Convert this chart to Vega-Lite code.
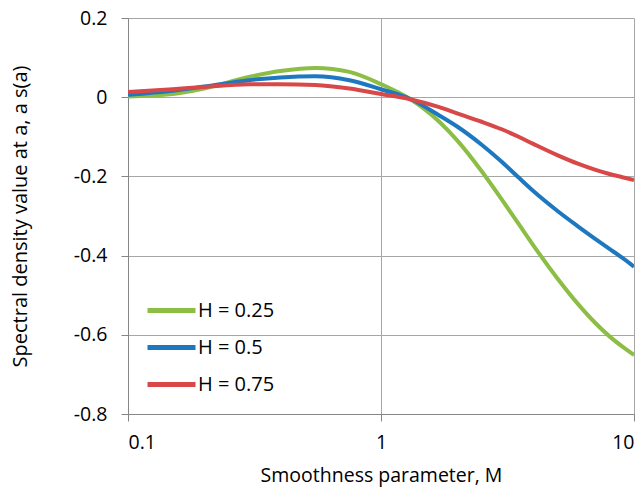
{
  "$schema": "https://vega.github.io/schema/vega-lite/v6.json",
  "width": 506,
  "height": 396,
  "autosize": {"type": "none"},
  "padding": {"left": 128, "top": 18, "right": 10, "bottom": 74},
  "background": "white",
  "config": {
    "view": {"stroke": null},
    "font": "Open Sans"
  },
  "datasets": {
    "curves": [
      {"M": 0.1, "v": 0.002, "series": "H = 0.25"},
      {"M": 0.15, "v": 0.008, "series": "H = 0.25"},
      {"M": 0.2, "v": 0.022, "series": "H = 0.25"},
      {"M": 0.3, "v": 0.051, "series": "H = 0.25"},
      {"M": 0.4, "v": 0.066, "series": "H = 0.25"},
      {"M": 0.55, "v": 0.074, "series": "H = 0.25"},
      {"M": 0.75, "v": 0.064, "series": "H = 0.25"},
      {"M": 1.0, "v": 0.033, "series": "H = 0.25"},
      {"M": 1.3, "v": -0.004, "series": "H = 0.25"},
      {"M": 1.7, "v": -0.062, "series": "H = 0.25"},
      {"M": 2.0, "v": -0.109, "series": "H = 0.25"},
      {"M": 2.5, "v": -0.187, "series": "H = 0.25"},
      {"M": 3.0, "v": -0.258, "series": "H = 0.25"},
      {"M": 3.5, "v": -0.32, "series": "H = 0.25"},
      {"M": 4.0, "v": -0.374, "series": "H = 0.25"},
      {"M": 5.0, "v": -0.459, "series": "H = 0.25"},
      {"M": 6.0, "v": -0.522, "series": "H = 0.25"},
      {"M": 7.0, "v": -0.569, "series": "H = 0.25"},
      {"M": 8.0, "v": -0.604, "series": "H = 0.25"},
      {"M": 9.0, "v": -0.63, "series": "H = 0.25"},
      {"M": 10.0, "v": -0.651, "series": "H = 0.25"},
      {"M": 0.1, "v": 0.006, "series": "H = 0.5"},
      {"M": 0.15, "v": 0.016, "series": "H = 0.5"},
      {"M": 0.2, "v": 0.027, "series": "H = 0.5"},
      {"M": 0.3, "v": 0.043, "series": "H = 0.5"},
      {"M": 0.4, "v": 0.05, "series": "H = 0.5"},
      {"M": 0.55, "v": 0.053, "series": "H = 0.5"},
      {"M": 0.75, "v": 0.043, "series": "H = 0.5"},
      {"M": 1.0, "v": 0.02, "series": "H = 0.5"},
      {"M": 1.3, "v": -0.004, "series": "H = 0.5"},
      {"M": 1.7, "v": -0.046, "series": "H = 0.5"},
      {"M": 2.0, "v": -0.074, "series": "H = 0.5"},
      {"M": 2.5, "v": -0.12, "series": "H = 0.5"},
      {"M": 3.0, "v": -0.163, "series": "H = 0.5"},
      {"M": 3.5, "v": -0.203, "series": "H = 0.5"},
      {"M": 4.0, "v": -0.237, "series": "H = 0.5"},
      {"M": 5.0, "v": -0.288, "series": "H = 0.5"},
      {"M": 6.0, "v": -0.326, "series": "H = 0.5"},
      {"M": 7.0, "v": -0.357, "series": "H = 0.5"},
      {"M": 8.0, "v": -0.383, "series": "H = 0.5"},
      {"M": 9.0, "v": -0.406, "series": "H = 0.5"},
      {"M": 10.0, "v": -0.428, "series": "H = 0.5"},
      {"M": 0.1, "v": 0.013, "series": "H = 0.75"},
      {"M": 0.15, "v": 0.02, "series": "H = 0.75"},
      {"M": 0.2, "v": 0.026, "series": "H = 0.75"},
      {"M": 0.3, "v": 0.033, "series": "H = 0.75"},
      {"M": 0.4, "v": 0.033, "series": "H = 0.75"},
      {"M": 0.55, "v": 0.031, "series": "H = 0.75"},
      {"M": 0.75, "v": 0.022, "series": "H = 0.75"},
      {"M": 1.0, "v": 0.008, "series": "H = 0.75"},
      {"M": 1.3, "v": -0.005, "series": "H = 0.75"},
      {"M": 1.7, "v": -0.025, "series": "H = 0.75"},
      {"M": 2.0, "v": -0.041, "series": "H = 0.75"},
      {"M": 2.5, "v": -0.062, "series": "H = 0.75"},
      {"M": 3.0, "v": -0.081, "series": "H = 0.75"},
      {"M": 3.5, "v": -0.1, "series": "H = 0.75"},
      {"M": 4.0, "v": -0.118, "series": "H = 0.75"},
      {"M": 5.0, "v": -0.147, "series": "H = 0.75"},
      {"M": 6.0, "v": -0.168, "series": "H = 0.75"},
      {"M": 7.0, "v": -0.183, "series": "H = 0.75"},
      {"M": 8.0, "v": -0.194, "series": "H = 0.75"},
      {"M": 9.0, "v": -0.202, "series": "H = 0.75"},
      {"M": 10.0, "v": -0.209, "series": "H = 0.75"}
    ]
  },
  "data": {"name": "curves"},
  "mark": {"type": "line", "strokeWidth": 4, "interpolate": "monotone", "clip": true},
  "encoding": {
    "x": {
      "field": "M",
      "type": "quantitative",
      "scale": {"type": "log", "domain": [0.1, 10], "nice": false},
      "axis": {
        "title": "Smoothness parameter, M",
        "values": [0.1, 1, 10],
        "format": "~g",
        "grid": true,
        "gridColor": "#a6a6a6",
        "gridWidth": 1,
        "domainColor": "#868686",
        "tickColor": "#868686",
        "tickSize": 7,
        "labelPadding": 12,
        "labelFontSize": 19.5,
        "labelColor": "#000000",
        "titleFontSize": 19.5,
        "titleFontWeight": "normal",
        "titleColor": "#000000",
        "titlePadding": 15
      }
    },
    "y": {
      "field": "v",
      "type": "quantitative",
      "scale": {"domain": [-0.8, 0.2], "nice": false, "zero": false},
      "axis": {
        "title": "Spectral density value at a, a s(a)",
        "values": [-0.8, -0.6, -0.4, -0.2, 0, 0.2],
        "labelExpr": "toString(round(datum.value*10)/10)",
        "grid": true,
        "gridColor": "#a6a6a6",
        "gridWidth": 1,
        "domainColor": "#868686",
        "tickColor": "#868686",
        "tickSize": 7,
        "labelPadding": 14,
        "labelFontSize": 19.5,
        "labelColor": "#000000",
        "titleFontSize": 20,
        "titleFontWeight": "normal",
        "titleColor": "#000000",
        "titlePadding": 43
      }
    },
    "color": {
      "field": "series",
      "type": "nominal",
      "scale": {
        "domain": ["H = 0.25", "H = 0.5", "H = 0.75"],
        "range": ["#8cbd44", "#1e78c0", "#d84848"]
      },
      "legend": {
        "title": null,
        "orient": "none",
        "legendX": 17,
        "legendY": 266,
        "symbolType": "stroke",
        "symbolSize": 2304,
        "symbolStrokeWidth": 5,
        "labelFontSize": 20,
        "labelColor": "#000000",
        "labelOffset": 0,
        "rowPadding": 0
      }
    }
  }
}
